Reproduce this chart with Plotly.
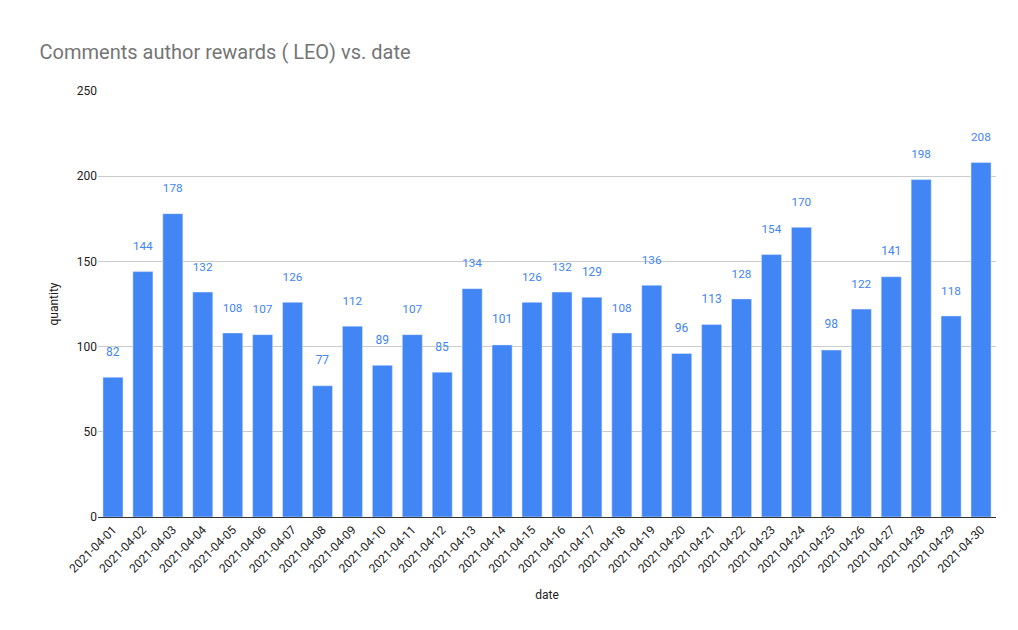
import plotly.graph_objects as go

dates = [f"2021-04-{d:02d}" for d in range(1, 31)]
values = [82, 144, 178, 132, 108, 107, 126, 77, 112, 89, 107, 85, 134, 101, 126,
          132, 129, 108, 136, 96, 113, 128, 154, 170, 98, 122, 141, 198, 118, 208]

fig = go.Figure(go.Bar(
    x=dates, y=values, marker_color="#4285F4",
    text=[f"{v}<br> " for v in values], textposition="outside",
    textfont=dict(color="#4285F4", size=12), cliponaxis=False,
))
fig.update_layout(
    width=1018, height=630,
    paper_bgcolor="white", plot_bgcolor="white",
    font=dict(family="Roboto, Arial, sans-serif", color="#222"),
    title=dict(text="Comments author rewards ( LEO) vs. date", x=0.031, y=0.93,
               yanchor="middle", xanchor="left", font=dict(size=20, color="#757575")),
    margin=dict(l=90, r=30, t=83, b=121),
    bargap=0.33, showlegend=False,
    xaxis=dict(type="category", title=dict(text="date", font=dict(size=12)), tickangle=-45,
               tickfont=dict(size=12), showgrid=False, linecolor="#333", showline=True),
    yaxis=dict(title=dict(text="quantity", font=dict(size=12)), range=[0, 250],
               dtick=50, gridcolor="#ccc", tickfont=dict(size=12), zeroline=False),
)
fig.write_html("out.html")
